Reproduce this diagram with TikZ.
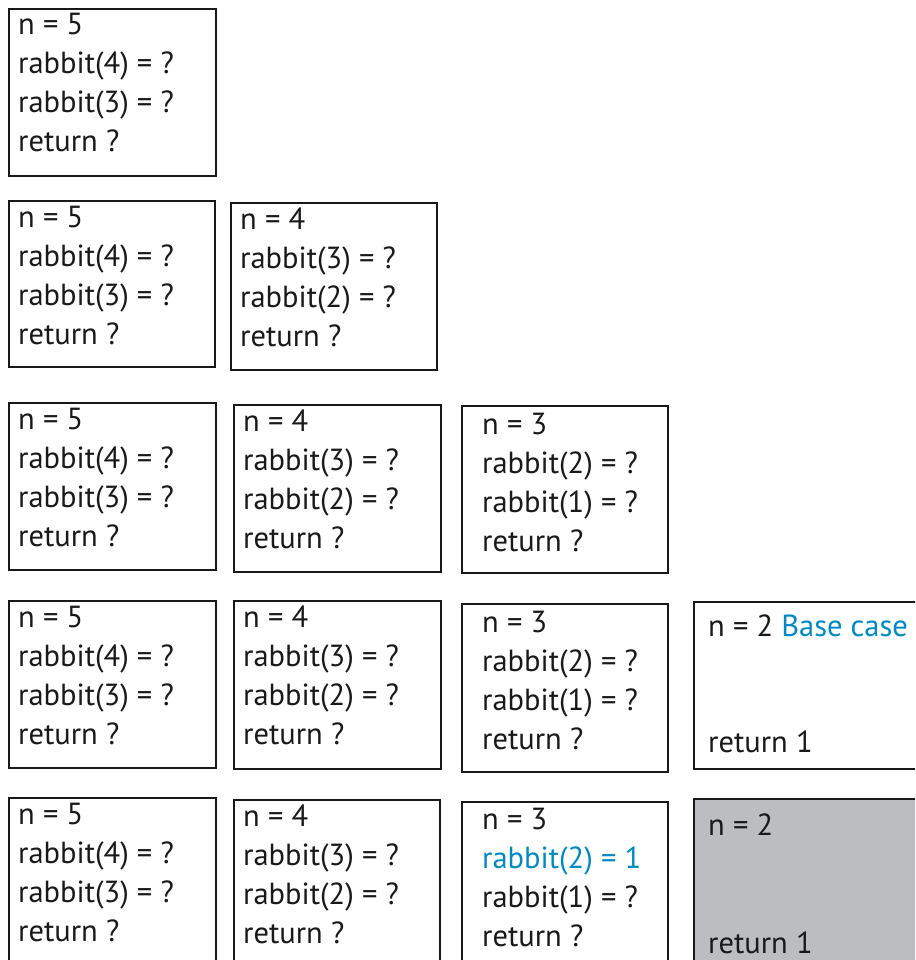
\documentclass[tikz,border=0pt]{standalone}
\usepackage{fontspec}
\setmainfont{PT Sans}
\definecolor{hiblue}{RGB}{0,138,196}
\definecolor{donegray}{RGB}{188,189,193}
\tikzset{
  frame/.style={draw=black!90, line width=2pt},
  ln/.style={anchor=base west, inner sep=0pt, font=\fontsize{30.5}{34}\selectfont, text=black!90},
}
\begin{document}
\begin{tikzpicture}[x=1pt, y=-1pt]
\useasboundingbox (0,0) rectangle (915,960);
\begin{scope}
\clip (0,0) rectangle (915,960);

% ---- row 1: rabbit(5) called
\draw[frame] (9,9) rectangle (216,176);
\node[ln] (a1) at (18,35)  {n = 5};
\node[ln] (a2) at (18,74)  {rabbit(4) = ?};
\node[ln] (a3) at (18,113) {rabbit(3) = ?};
\node[ln] (a4) at (18,152) {return ?};

% ---- row 2: rabbit(4) called
\draw[frame] (9,201) rectangle (215,367);
\node[ln] (b1) at (18,227) {n = 5};
\node[ln] (b2) at (18,266) {rabbit(4) = ?};
\node[ln] (b3) at (18,305) {rabbit(3) = ?};
\node[ln] (b4) at (18,344) {return ?};
\draw[frame] (231,203) rectangle (437,370);
\node[ln] (c1) at (240,229) {n = 4};
\node[ln] (c2) at (240,268) {rabbit(3) = ?};
\node[ln] (c3) at (240,307) {rabbit(2) = ?};
\node[ln] (c4) at (240,346) {return ?};

% ---- row 3: rabbit(3) called
\draw[frame] (9,403) rectangle (216,570);
\node[ln] (d1) at (18,429) {n = 5};
\node[ln] (d2) at (18,468) {rabbit(4) = ?};
\node[ln] (d3) at (18,507) {rabbit(3) = ?};
\node[ln] (d4) at (18,546) {return ?};
\draw[frame] (234,405) rectangle (441,572);
\node[ln] (e1) at (243,431) {n = 4};
\node[ln] (e2) at (243,470) {rabbit(3) = ?};
\node[ln] (e3) at (243,509) {rabbit(2) = ?};
\node[ln] (e4) at (243,548) {return ?};
\draw[frame] (462,406) rectangle (668,573);
\node[ln] (f1) at (482,434) {n = 3};
\node[ln] (f2) at (482,473) {rabbit(2) = ?};
\node[ln] (f3) at (482,512) {rabbit(1) = ?};
\node[ln] (f4) at (482,551) {return ?};

% ---- row 4: rabbit(2) called, base case
\draw[frame] (9,601) rectangle (216,768);
\node[ln] (g1) at (18,627) {n = 5};
\node[ln] (g2) at (18,666) {rabbit(4) = ?};
\node[ln] (g3) at (18,705) {rabbit(3) = ?};
\node[ln] (g4) at (18,744) {return ?};
\draw[frame] (234,601) rectangle (441,769);
\node[ln] (h1) at (243,627) {n = 4};
\node[ln] (h2) at (243,666) {rabbit(3) = ?};
\node[ln] (h3) at (243,705) {rabbit(2) = ?};
\node[ln] (h4) at (243,744) {return ?};
\draw[frame] (462,604) rectangle (668,772);
\node[ln] (i1) at (482,632) {n = 3};
\node[ln] (i2) at (482,671) {rabbit(2) = ?};
\node[ln] (i3) at (482,710) {rabbit(1) = ?};
\node[ln] (i4) at (482,749) {return ?};
\draw[frame] (694,602) rectangle (930,769);
\node[ln] (j1) at (708,636) {n = 2 \textcolor{hiblue}{Base case}};
\node[ln] (j4) at (708,752) {return 1};

% ---- row 5: rabbit(2) returns 1
\draw[frame] (9,798) rectangle (216,990);
\node[ln] (k1) at (18,824) {n = 5};
\node[ln] (k2) at (18,863) {rabbit(4) = ?};
\node[ln] (k3) at (18,902) {rabbit(3) = ?};
\node[ln] (k4) at (18,941) {return ?};
\draw[frame] (234,800) rectangle (440,990);
\node[ln] (l1) at (243,826) {n = 4};
\node[ln] (l2) at (243,865) {rabbit(3) = ?};
\node[ln] (l3) at (243,904) {rabbit(2) = ?};
\node[ln] (l4) at (243,943) {return ?};
\draw[frame] (462,802) rectangle (668,990);
\node[ln] (m1) at (482,829) {n = 3};
\node[ln, text=hiblue] (m2) at (482,868) {rabbit(2) = 1};
\node[ln] (m3) at (482,907) {rabbit(1) = ?};
\node[ln] (m4) at (482,946) {return ?};
\draw[frame, fill=donegray] (694,799) rectangle (930,990);
\node[ln] (o1) at (708,835) {n = 2};
\node[ln] (o4) at (708,953) {return 1};
\end{scope}
\end{tikzpicture}
\end{document}
